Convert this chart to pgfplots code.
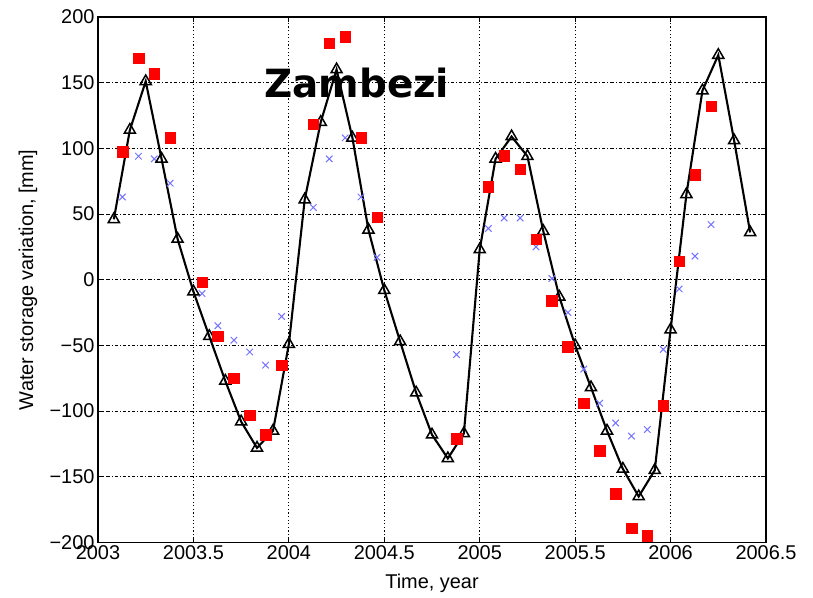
\documentclass[border=0pt]{standalone}
\usepackage{fontspec}
\setmainfont{Liberation Sans}
\newfontfamily\titlefont{DejaVu Sans}
\usepackage{pgfplots}
\pgfplotsset{compat=1.18}

\definecolor{modelline}{rgb}{0,0,0}
\definecolor{gracered}{rgb}{1,0,0}
\definecolor{crossblue}{rgb}{0.45,0.45,1}

\begin{document}
\begin{tikzpicture}
\path[use as bounding box] (0,0) rectangle (813bp,598bp);
\begin{axis}[
  at={(98bp,55.5bp)}, anchor=south west,
  scale only axis, width=668bp, height=525.5bp,
  xmin=2003, xmax=2006.5, ymin=-200, ymax=200,
  xtick={2003,2003.5,2004,2004.5,2005,2005.5,2006,2006.5},
  xticklabels={2003,2003.5,2004,2004.5,2005,2005.5,2006,2006.5},
  ytick={-200,-150,-100,-50,0,50,100,150,200},
  yticklabels={−200,−150,−100,−50,0,50,100,150,200},
  tick align=inside, major tick length=5bp,
  every tick/.style={black, line width=0.9bp},
  axis line style={black, line width=1.3bp},
  xmajorgrids, ymajorgrids,
  x grid style={black, line width=1bp, dash pattern=on 1.3bp off 2.3bp},
  y grid style={black, line width=1bp, dash pattern=on 3.2bp off 2bp on 1.2bp off 2bp},
  tick label style={font=\fontsize{20}{24}\selectfont},
  label style={font=\fontsize{20}{24}\selectfont},
  xlabel={Time, year},
  ylabel={Water storage variation, [mm]},
  xlabel style={at={(axis description cs:0.5,-0.077)}, anchor=center},
  ylabel style={at={(axis description cs:-0.105,0.5)}, anchor=center},
  clip=false,
]
% second estimate (blue crosses)
\addplot[only marks, mark=x, mark size=4.6bp, crossblue, line width=1bp] coordinates {
(2003.128,63) (2003.212,94) (2003.295,92) (2003.378,73.5)
(2003.545,-10.5) (2003.628,-35) (2003.712,-46) (2003.795,-55) (2003.878,-65) (2003.962,-28)
(2004.128,55) (2004.212,92) (2004.295,108) (2004.378,63) (2004.462,17)
(2004.878,-57)
(2005.045,39) (2005.128,47) (2005.212,47) (2005.295,25) (2005.378,1) (2005.462,-25)
(2005.545,-68) (2005.628,-94) (2005.712,-109) (2005.795,-119) (2005.878,-114) (2005.962,-53)
(2006.045,-7) (2006.128,18) (2006.212,42)
};
% model (black line with triangles)
\addplot[modelline, line width=2.1bp, mark=triangle, mark size=6.4bp,
  mark options={solid, line width=1.5bp, fill=none}] coordinates {
(2003.083,46) (2003.167,114) (2003.250,151) (2003.333,92) (2003.417,31)
(2003.500,-9) (2003.583,-43) (2003.667,-77) (2003.750,-108) (2003.833,-128)
(2003.917,-115) (2004.000,-49) (2004.083,61) (2004.167,120) (2004.250,160)
(2004.333,108) (2004.417,38) (2004.500,-8) (2004.583,-47) (2004.667,-86)
(2004.750,-118) (2004.833,-136) (2004.917,-117) (2005.000,23) (2005.083,92)
(2005.167,109) (2005.250,94) (2005.333,37) (2005.417,-13) (2005.500,-50)
(2005.583,-82) (2005.667,-115) (2005.750,-144) (2005.833,-165) (2005.917,-145)
(2006.000,-38) (2006.083,65) (2006.167,144) (2006.250,171) (2006.333,106)
(2006.417,36)
};
% GRACE estimate (red squares)
\addplot[only marks, mark=square*, mark size=5.3bp, gracered] coordinates {
(2003.128,97.5) (2003.212,168.5) (2003.295,157) (2003.378,108)
(2003.545,-2) (2003.628,-43) (2003.712,-75) (2003.795,-103) (2003.878,-118) (2003.962,-65)
(2004.128,118.5) (2004.212,180) (2004.295,185) (2004.378,108) (2004.462,47.5)
(2004.878,-121)
(2005.045,71) (2005.128,94.5) (2005.212,84) (2005.295,31) (2005.378,-16) (2005.462,-51)
(2005.545,-94) (2005.628,-130) (2005.712,-163) (2005.795,-189) (2005.878,-195) (2005.962,-96)
(2006.045,14) (2006.128,80) (2006.212,132)
};
\node[font=\titlefont\bfseries\fontsize{39}{44}\selectfont, anchor=base]
  at (axis cs:2004.356,139) {Zambezi};
\end{axis}
\end{tikzpicture}
\end{document}
